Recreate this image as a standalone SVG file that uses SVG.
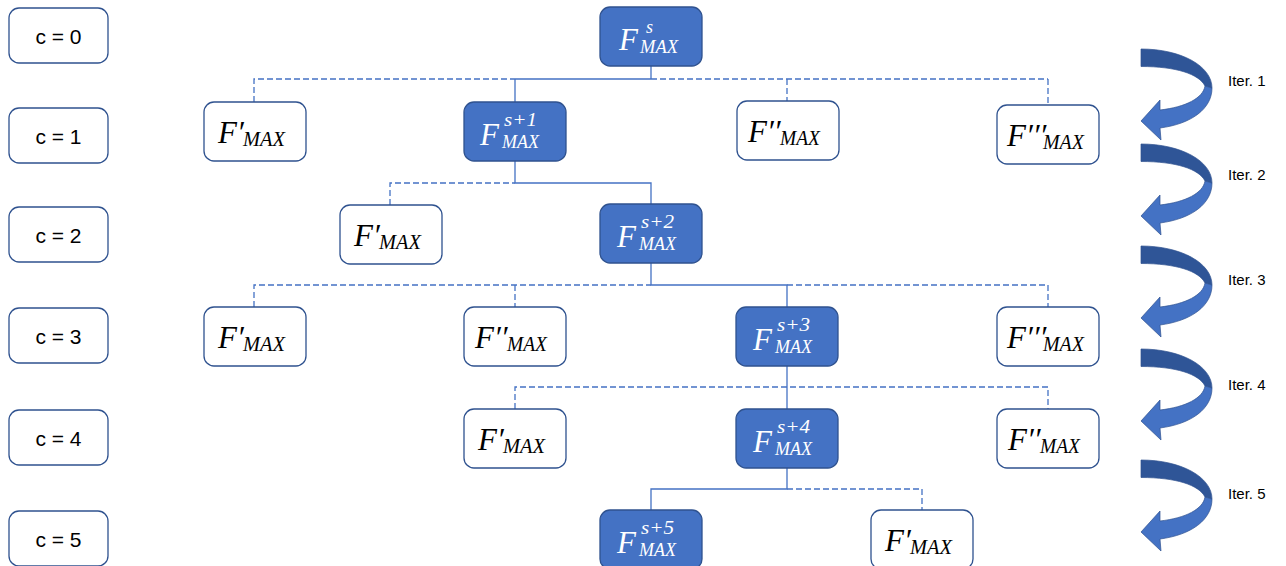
<svg xmlns="http://www.w3.org/2000/svg" width="1286" height="566" viewBox="0 0 1286 566">
<defs>
<style>
.lvl{fill:#fff;stroke:#2F528F;stroke-width:1.3}
.lt{font-family:"Liberation Sans",Arial,sans-serif;font-size:21px;fill:#000;text-anchor:middle}
.wb{fill:#fff;stroke:#2F528F;stroke-width:1.3}
.bb{fill:#4472C4;stroke:#2F528F;stroke-width:1.3}
.F{font-family:"Liberation Serif","Times New Roman",serif;font-style:italic;font-size:31px}
.sw{font-family:"Liberation Serif","Times New Roman",serif;font-style:italic;font-size:21px}
.sb{font-family:"Liberation Serif","Times New Roman",serif;font-style:italic;font-size:18px}
.sup{font-family:"Liberation Serif","Times New Roman",serif;font-style:italic;font-size:18px}
.k{fill:#000}
.w{fill:#fff}
.sol{fill:none;stroke:#4472C4;stroke-width:1.3}
.dash{fill:none;stroke:#4472C4;stroke-width:1.3;stroke-dasharray:6 3}
.it{font-family:"Liberation Sans",Arial,sans-serif;font-size:15px;fill:#000}
.ad{fill:#2F5597;stroke:#2F528F;stroke-width:0.7}
.al{fill:#4472C4;stroke:#2F528F;stroke-width:0.7}
</style>
<g id="curvArrow">
<path class="ad" d="M0,0 C40,0 71,17 71,39 L64,37 C58,25 35,17.5 0,17.5 Z"/>
<path class="al" d="M71,39 C71,60 50,75 19,79 L20,91 L0,72 L19,51 L19,61 C45,58 62,49 64,37 Z"/>
</g>
</defs>

<g id="levels">
<g id="c0"><rect class="lvl" x="9" y="8" width="99" height="55" rx="10"/><text class="lt" x="58.5" y="44">c = 0</text></g>
<g id="c1"><rect class="lvl" x="9" y="108" width="99" height="55" rx="10"/><text class="lt" x="58.5" y="144">c = 1</text></g>
<g id="c2"><rect class="lvl" x="9" y="207" width="99" height="55" rx="10"/><text class="lt" x="58.5" y="243">c = 2</text></g>
<g id="c3"><rect class="lvl" x="9" y="308" width="99" height="55" rx="10"/><text class="lt" x="58.5" y="344">c = 3</text></g>
<g id="c4"><rect class="lvl" x="9" y="410" width="99" height="55" rx="10"/><text class="lt" x="58.5" y="446">c = 4</text></g>
<g id="c5"><rect class="lvl" x="9" y="511" width="99" height="55" rx="10"/><text class="lt" x="58.5" y="547">c = 5</text></g>
</g>

<g id="connectors">
<path class="sol" d="M651,66 V79 M515,79 H651 M515,79 V102"/>
<path class="dash" d="M254,102 V79 H515 M651,79 H1048 M787,79 V101 M1048,79 V105"/>
<path class="sol" d="M515,160 V183 H651 V204"/>
<path class="dash" d="M390,205 V183 H515"/>
<path class="sol" d="M651,263 V285 H787 V307"/>
<path class="dash" d="M254,307 V285 H651 M787,285 H1048 V307 M515,285 V307"/>
<path class="sol" d="M787,366 V409"/>
<path class="dash" d="M515,409 V387 H1048 V409"/>
<path class="sol" d="M787,468 V489 H651 V510"/>
<path class="dash" d="M787,489 H922 V510"/>
</g>

<g id="n0"><rect class="bb" x="600" y="7" width="102" height="59" rx="10"/>
<text class="F w" x="619" y="50">F</text><text class="sup w" x="646" y="33" font-size="20">s</text><text class="sb w" x="640" y="53" textLength="38" lengthAdjust="spacingAndGlyphs">MAX</text></g>

<g id="n1a"><rect class="wb" x="204" y="102" width="102" height="59" rx="10"/>
<text class="F k" x="218" y="143">F′</text><text class="sw k" x="243" y="146" textLength="42" lengthAdjust="spacingAndGlyphs">MAX</text></g>
<g id="n1b"><rect class="bb" x="464" y="102" width="102" height="59" rx="10"/>
<text class="F w" x="480" y="145">F</text><text class="sup w" x="504" y="126" textLength="33" lengthAdjust="spacingAndGlyphs">s+1</text><text class="sb w" x="502" y="148" textLength="37" lengthAdjust="spacingAndGlyphs">MAX</text></g>
<g id="n1c"><rect class="wb" x="737" y="101" width="102" height="59" rx="10"/>
<text class="F k" x="748" y="142">F′′</text><text class="sw k" x="780" y="145" textLength="40" lengthAdjust="spacingAndGlyphs">MAX</text></g>
<g id="n1d"><rect class="wb" x="997" y="105" width="102" height="59" rx="10"/>
<text class="F k" x="1007" y="146">F′′′</text><text class="sw k" x="1043" y="149" textLength="41" lengthAdjust="spacingAndGlyphs">MAX</text></g>

<g id="n2a"><rect class="wb" x="340" y="205" width="102" height="59" rx="10"/>
<text class="F k" x="354" y="246">F′</text><text class="sw k" x="379" y="249" textLength="42" lengthAdjust="spacingAndGlyphs">MAX</text></g>
<g id="n2b"><rect class="bb" x="600" y="204" width="102" height="59" rx="10"/>
<text class="F w" x="617" y="247">F</text><text class="sup w" x="641" y="228" textLength="33" lengthAdjust="spacingAndGlyphs">s+2</text><text class="sb w" x="639" y="250" textLength="37" lengthAdjust="spacingAndGlyphs">MAX</text></g>

<g id="n3a"><rect class="wb" x="204" y="307" width="102" height="59" rx="10"/>
<text class="F k" x="218" y="348">F′</text><text class="sw k" x="243" y="351" textLength="42" lengthAdjust="spacingAndGlyphs">MAX</text></g>
<g id="n3b"><rect class="wb" x="464" y="307" width="102" height="59" rx="10"/>
<text class="F k" x="475" y="348">F′′</text><text class="sw k" x="507" y="351" textLength="40" lengthAdjust="spacingAndGlyphs">MAX</text></g>
<g id="n3c"><rect class="bb" x="736" y="307" width="102" height="59" rx="10"/>
<text class="F w" x="753" y="350">F</text><text class="sup w" x="777" y="331" textLength="33" lengthAdjust="spacingAndGlyphs">s+3</text><text class="sb w" x="775" y="353" textLength="37" lengthAdjust="spacingAndGlyphs">MAX</text></g>
<g id="n3d"><rect class="wb" x="997" y="307" width="102" height="59" rx="10"/>
<text class="F k" x="1007" y="348">F′′′</text><text class="sw k" x="1043" y="351" textLength="41" lengthAdjust="spacingAndGlyphs">MAX</text></g>

<g id="n4a"><rect class="wb" x="464" y="409" width="102" height="59" rx="10"/>
<text class="F k" x="478" y="450">F′</text><text class="sw k" x="503" y="453" textLength="42" lengthAdjust="spacingAndGlyphs">MAX</text></g>
<g id="n4b"><rect class="bb" x="736" y="409" width="102" height="59" rx="10"/>
<text class="F w" x="753" y="452">F</text><text class="sup w" x="777" y="433" textLength="33" lengthAdjust="spacingAndGlyphs">s+4</text><text class="sb w" x="775" y="455" textLength="37" lengthAdjust="spacingAndGlyphs">MAX</text></g>
<g id="n4c"><rect class="wb" x="997" y="409" width="102" height="59" rx="10"/>
<text class="F k" x="1008" y="450">F′′</text><text class="sw k" x="1040" y="453" textLength="40" lengthAdjust="spacingAndGlyphs">MAX</text></g>

<g id="n5a"><rect class="bb" x="600" y="510" width="102" height="59" rx="10"/>
<text class="F w" x="617" y="553">F</text><text class="sup w" x="641" y="534" textLength="33" lengthAdjust="spacingAndGlyphs">s+5</text><text class="sb w" x="639" y="556" textLength="37" lengthAdjust="spacingAndGlyphs">MAX</text></g>
<g id="n5b"><rect class="wb" x="871" y="510" width="102" height="59" rx="10"/>
<text class="F k" x="885" y="551">F′</text><text class="sw k" x="910" y="554" textLength="42" lengthAdjust="spacingAndGlyphs">MAX</text></g>

<g id="iterations">
<use href="#curvArrow" x="1141" y="49"/>
<use href="#curvArrow" x="1141" y="144"/>
<use href="#curvArrow" x="1141" y="246"/>
<use href="#curvArrow" x="1141" y="349"/>
<use href="#curvArrow" x="1141" y="460"/>
<text class="it" x="1228" y="86">Iter. 1</text>
<text class="it" x="1228" y="180">Iter. 2</text>
<text class="it" x="1228" y="285">Iter. 3</text>
<text class="it" x="1228" y="390">Iter. 4</text>
<text class="it" x="1228" y="499">Iter. 5</text>
</g>
</svg>
